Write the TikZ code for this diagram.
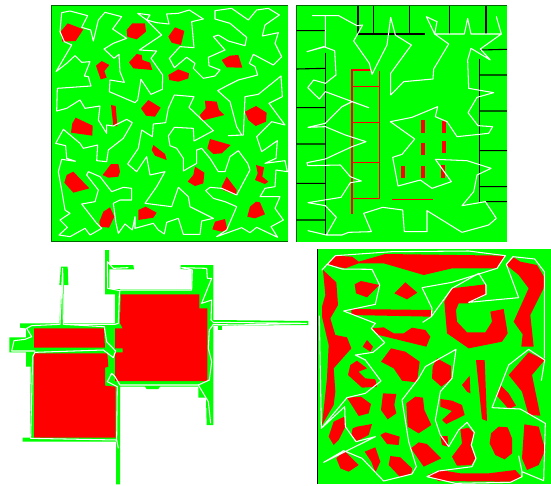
\documentclass[tikz,border=0pt]{standalone}
\begin{document}
\begin{tikzpicture}[
    x=1pt, y=-1pt,
    free/.style={fill=green},
    obstacle/.style={fill=red},
    frame/.style={draw=black!60!green, line width=0.7pt},
    wall/.style={draw=black, line width=1.1pt},
    route/.style={draw=white, line width=1.05pt, line join=round},
    rail/.style={draw=red, line width=1.2pt},
  ]
    \useasboundingbox (0,0) rectangle (551,485);

    % top left
    \begin{scope}[shift={(45,0)}, scale=1/3]
    \fill[free] (20,17) rectangle (728,724);
    \draw[frame] (728,17) -- (20,17) -- (20,724) -- (728,724);
    \fill[obstacle] (68,70) -- (115,88) -- (92,123) -- (52,125) -- (47,95) -- cycle;
    \fill[obstacle] (262,70) -- (300,70) -- (303,95) -- (275,118) -- (247,110) -- (245,90) -- cycle;
    \fill[obstacle] (390,82) -- (418,93) -- (408,135) -- (380,128) -- (370,110) -- cycle;
    \fill[obstacle] (275,162) -- (290,165) -- (292,180) -- (315,188) -- (322,210) -- (265,205) -- (252,187) -- cycle;
    \fill[obstacle] (170,183) -- (193,195) -- (178,213) -- (185,233) -- (167,238) -- (153,197) -- cycle;
    \fill[obstacle] (555,167) -- (580,165) -- (592,203) -- (545,202) -- (530,180) -- cycle;
    \fill[obstacle] (400,208) -- (432,220) -- (430,235) -- (400,245) -- (373,240) -- (370,225) -- cycle;
    \fill[obstacle] (310,300) -- (347,323) -- (330,350) -- (303,347) -- (288,325) -- cycle;
    \fill[obstacle] (198,315) -- (212,318) -- (217,378) -- (205,378) -- cycle;
    \fill[obstacle] (480,302) -- (515,305) -- (522,330) -- (538,345) -- (470,362) -- (465,345) -- (482,325) -- cycle;
    \fill[obstacle] (633,318) -- (665,338) -- (663,365) -- (632,378) -- (610,360) -- (600,335) -- cycle;
    \fill[obstacle] (92,353) -- (143,377) -- (142,407) -- (78,398) -- (82,370) -- cycle;
    \fill[obstacle] (495,417) -- (557,435) -- (530,460) -- (505,462) -- (487,445) -- cycle;
    \fill[obstacle] (325,435) -- (360,462) -- (365,480) -- (330,467) -- (320,450) -- cycle;
    \fill[obstacle] (198,492) -- (220,492) -- (225,515) -- (220,530) -- (190,533) -- (173,525) -- cycle;
    \fill[obstacle] (85,515) -- (133,565) -- (85,578) -- (58,548) -- (65,525) -- cycle;
    \fill[obstacle] (450,500) -- (478,518) -- (475,550) -- (450,558) -- (428,545) -- (445,525) -- cycle;
    \fill[obstacle] (545,530) -- (575,570) -- (573,585) -- (533,570) -- (530,560) -- cycle;
    \fill[obstacle] (633,495) -- (657,502) -- (652,530) -- (670,545) -- (660,552) -- (630,540) -- (638,520) -- cycle;
    \fill[obstacle] (195,622) -- (208,650) -- (192,683) -- (165,680) -- (163,665) -- (175,635) -- cycle;
    \fill[obstacle] (302,620) -- (335,638) -- (325,653) -- (280,660) -- (280,630) -- cycle;
    \fill[obstacle] (633,605) -- (645,607) -- (660,643) -- (630,655) -- (607,650) -- (615,620) -- cycle;
    \fill[obstacle] (510,665) -- (540,657) -- (547,690) -- (530,695) -- (502,688) -- cycle;
    \draw[route] (92,484) -- (50,478) -- (40,515) -- (50,570) -- (60,630) -- (75,640) -- (45,660) -- (67,682) -- (42,705) -- (75,710) -- (120,685) -- (135,705) -- (170,685) -- (155,670) -- (110,612) -- (150,605) -- (160,570) -- (125,525) -- (130,515) -- (165,530) -- (200,575) -- (235,562) -- (260,565) -- (260,600) -- (225,600) -- (205,610) -- (213,670) -- (220,700) -- (240,672) -- (262,690) -- (270,650) -- (270,685) -- (325,670) -- (340,690) -- (358,702) -- (365,667) -- (400,655) -- (415,703) -- (465,703) -- (470,663) -- (505,655) -- (435,620) -- (430,590) -- (400,562) -- (380,620) -- (300,610) -- (335,560) -- (360,515) -- (315,525) -- (305,470) -- (275,515) -- (248,492) -- (280,445) -- (290,390) -- (322,410) -- (325,372) -- (362,368) -- (370,325) -- (388,285) -- (447,290) -- (432,322) -- (505,392) -- (447,423) -- (445,385) -- (388,382) -- (370,408) -- (375,437) -- (395,445) -- (415,475) -- (415,513) -- (455,490) -- (455,450) -- (470,445) -- (495,475) -- (520,515) -- (540,515) -- (555,470) -- (580,452) -- (608,490) -- (615,510) -- (575,585) -- (530,565) -- (495,562) -- (482,572) -- (505,595) -- (540,605) -- (575,620) -- (545,690) -- (515,710) -- (590,683) -- (615,698) -- (635,682) -- (698,712) -- (678,680) -- (715,660) -- (690,625) -- (705,590) -- (645,590) -- (660,565) -- (690,560) -- (693,510) -- (727,515) -- (720,482) -- (660,490) -- (693,475) -- (697,422) -- (650,455) -- (635,410) -- (680,365) -- (720,375) -- (672,310) -- (712,290) -- (708,228) -- (640,283) -- (600,290) -- (595,405) -- (550,407) -- (590,405) -- (575,380) -- (555,305) -- (518,272) -- (550,255) -- (580,240) -- (638,225) -- (630,200) -- (613,190) -- (625,163) -- (685,195) -- (710,170) -- (690,130) -- (700,98) -- (652,108) -- (660,75) -- (703,45) -- (670,25) -- (635,30) -- (610,60) -- (560,25) -- (510,32) -- (510,57) -- (555,70) -- (605,112) -- (600,137) -- (550,123) -- (520,105) -- (505,110) -- (540,150) -- (490,172) -- (492,197) -- (525,210) -- (510,228) -- (475,235) -- (445,205) -- (450,190) -- (425,172) -- (388,203) -- (373,175) -- (405,140) -- (447,143) -- (440,65) -- (475,57) -- (433,30) -- (400,40) -- (365,42) -- (372,72) -- (335,68) -- (305,60) -- (315,45) -- (278,40) -- (305,60) -- (350,105) -- (283,150) -- (335,153) -- (318,175) -- (353,225) -- (352,268) -- (318,283) -- (288,238) -- (278,300) -- (270,308) -- (235,293) -- (193,275) -- (195,240) -- (238,247) -- (225,215) -- (222,163) -- (207,175) -- (177,147) -- (205,130) -- (245,115) -- (203,87) -- (230,50) -- (180,37) -- (160,60) -- (145,123) -- (137,90) -- (110,82) -- (128,47) -- (75,33) -- (50,38) -- (45,95) -- (58,125) -- (80,135) -- (33,215) -- (65,190) -- (90,167) -- (110,187) -- (135,185) -- (118,228) -- (130,230) -- (138,258) -- (37,265) -- (35,333) -- (65,325) -- (105,300) -- (120,325) -- (165,318) -- (160,360) -- (185,400) -- (185,375) -- (205,378) -- (245,358) -- (262,368) -- (235,415) -- (190,450) -- (185,485) -- (155,482) -- (158,435) -- (115,445) -- (105,430) -- (55,388) -- (32,430) -- (62,437) -- (65,475) -- (92,484);
    \end{scope}

    % top right
    \begin{scope}[shift={(292,0)}, scale=1/3]
    \fill[free] (13,17) rectangle (645,725);
    \draw[frame] (13,725) -- (13,17) -- (645,17);
    \draw[wall] (198,17) -- (198,102) (245,17) -- (245,102) (353,17) -- (353,102) (472,17) -- (472,102) (582,17) -- (582,102);
    \draw[wall] (198,102) -- (400,102);
    \draw[wall] (100,160) -- (100,705);
    \draw[wall] (13,92) -- (100,92) (13,207) -- (100,205) (13,323) -- (100,323) (13,432) -- (100,432) (13,550) -- (100,550) (13,660) -- (100,660);
    \draw[wall] (562,178) -- (562,605);
    \draw[wall] (565,150) -- (645,148) (562,225) -- (645,225) (562,333) -- (645,333) (562,452) -- (645,452) (562,560) -- (645,560) (582,605) -- (645,605);
    \draw[rail] (237,210) -- (180,210) -- (180,642);
    \draw[rail] (263,213) -- (263,597);
    \draw[rail] (180,260) -- (263,260) (180,368) -- (263,368) (180,487) -- (263,487) (180,596) -- (263,596);
    \draw[rail, line width=0.7pt] (300,597) -- (422,597);
    \fill[obstacle] (388,360) rectangle (400,398);
    \fill[obstacle] (450,362) rectangle (462,400);
    \fill[obstacle] (388,428) rectangle (400,465);
    \fill[obstacle] (450,422) rectangle (462,458);
    \fill[obstacle] (327,497) rectangle (339,535);
    \fill[obstacle] (388,497) rectangle (400,535);
    \fill[obstacle] (448,495) rectangle (460,535);
    \draw[route] (60,47) -- (140,47) -- (195,77) -- (212,75) -- (185,123) -- (232,190) -- (240,223) -- (285,135) -- (296,52) -- (310,105) -- (358,135) -- (296,220) -- (296,285) -- (335,245) -- (423,237) -- (425,207) -- (470,132) -- (428,102) -- (435,65) -- (403,50) -- (428,102) -- (517,102) -- (527,55) -- (537,102) -- (628,102) -- (613,50) -- (628,102) -- (565,147) -- (595,180) -- (537,145) -- (527,180) -- (530,265) -- (605,278) -- (555,292) -- (528,338) -- (558,377) -- (602,380) -- (590,400) -- (495,410) -- (465,365) -- (430,350) -- (437,320) -- (360,352) -- (295,365) -- (368,417) -- (330,463) -- (302,472) -- (318,558) -- (385,540) -- (420,565) -- (478,545) -- (430,478) -- (525,482) -- (597,505) -- (555,525) -- (545,575) -- (510,617) -- (580,605) -- (613,655) -- (590,675) -- (510,697) -- (405,632) -- (405,695) -- (337,695) -- (332,630) -- (272,622) -- (215,640) -- (238,695) -- (170,697) -- (150,705) -- (103,705) -- (48,692) -- (103,705) -- (133,652) -- (100,617) -- (48,608) -- (147,592) -- (175,548) -- (208,543) -- (175,530) -- (145,495) -- (47,497) -- (45,488) -- (100,477) -- (180,440) -- (222,425) -- (160,405) -- (100,380) -- (48,382) -- (100,370) -- (150,320) -- (180,305) -- (230,323) -- (100,275) -- (82,297) -- (47,263) -- (65,240) -- (100,250) -- (132,225) -- (128,152) -- (95,140) -- (45,155) -- (100,140) -- (100,47);
    \end{scope}

    % bottom left
    \begin{scope}[shift={(0,245)}, scale=1/3]
    \fill[free] (315,15) -- (327,15) -- (327,60) -- (400,60) -- (402,73) -- (328,73) -- (328,132) -- (575,132) -- (575,75) -- (542,72) -- (542,60) -- (640,60) -- (640,225) -- (925,228) -- (925,240) -- (640,242) -- (640,540) -- (620,540) -- (618,458) -- (595,458) -- (595,425) -- (480,425) -- (475,432) -- (440,432) -- (435,425) -- (360,425) -- (360,718) -- (348,718) -- (348,590) -- (68,590) -- (68,578) -- (90,578) -- (92,365) -- (78,365) -- (78,322) -- (28,322) -- (28,277) -- (78,277) -- (78,250) -- (60,248) -- (60,235) -- (178,235) -- (185,120) -- (178,120) -- (183,65) -- (203,65) -- (205,120) -- (192,120) -- (190,235) -- (345,235) -- (345,148) -- (315,148) -- cycle;
    \fill[free] (654,244) rectangle (666,256);
    \fill[obstacle] (102,250) -- (312,250) -- (315,308) -- (102,308) -- cycle;
    \fill[obstacle] (102,325) -- (322,325) -- (325,365) -- (315,368) -- (315,422) -- (347,425) -- (347,578) -- (102,578) -- cycle;
    \fill[obstacle] (362,148) -- (598,148) -- (598,190) -- (622,190) -- (622,408) -- (345,408) -- (345,322) -- (368,322) -- (368,310) -- (345,310) -- (345,250) -- (368,250) -- (360,235) -- cycle;
    \draw[route] (355,610) -- (350,585) -- (92,580) -- (98,335) -- (105,322) -- (310,315) -- (340,338) -- (347,318) -- (320,290) -- (313,245) -- (190,238) -- (188,70) -- (180,238) -- (95,242) -- (80,250) -- (95,275) -- (75,283) -- (42,287) -- (35,318) -- (105,318);
    \draw[route] (190,238) -- (345,238) -- (355,235) -- (358,148) -- (360,137) -- (323,130) -- (322,50) -- (340,70) -- (385,68);
    \draw[route] (360,135) -- (575,135) -- (577,75) -- (545,68) -- (620,70) -- (622,100) -- (635,100) -- (605,175) -- (635,165) -- (633,225) -- (640,232) -- (920,235) -- (705,240) -- (640,238) -- (628,255) -- (625,310) -- (635,350) -- (628,405) -- (595,420) -- (625,470) -- (632,535);
    \draw[route] (595,420) -- (360,420) -- (345,395) -- (335,385) -- (322,410) -- (352,425) -- (350,585);
    \end{scope}

    % bottom right
    \begin{scope}[shift={(312,245)}, scale=1/3]
    \fill[free] (17,12) rectangle (720,718);
    \draw[wall, line width=1.2pt] (17,12) -- (17,718);
    \fill[obstacle] (70,32) -- (120,35) -- (140,50) -- (220,27) -- (580,32) -- (555,70) -- (420,70) -- (335,90) -- (215,55) -- (140,55) -- (100,70) -- (45,58) -- cycle;
    \fill[obstacle] (605,37) -- (625,50) -- (675,60) -- (697,97) -- (695,130) -- (655,210) -- (665,305) -- (628,305) -- (632,268) -- (605,230) -- (650,130) -- (620,90) -- (583,60) -- cycle;
    \fill[obstacle] (33,75) -- (73,112) -- (78,180) -- (55,220) -- (70,270) -- (105,277) -- (118,310) -- (65,370) -- (70,440) -- (65,480) -- (30,540) -- (45,400) -- (48,340) -- (50,300) -- (30,215) -- (30,185) -- (40,150) -- cycle;
    \fill[obstacle] (147,108) -- (202,120) -- (165,157) -- (132,145) -- (128,118) -- cycle;
    \fill[obstacle] (280,112) -- (316,143) -- (285,163) -- (247,145) -- cycle;
    \fill[obstacle] (118,192) -- (358,195) -- (358,215) -- (118,210) -- cycle;
    \fill[obstacle] (420,130) -- (520,118) -- (522,150) -- (470,175) -- (440,175) -- (432,195) -- (435,230) -- (465,262) -- (520,262) -- (540,230) -- (535,200) -- (575,192) -- (587,265) -- (570,290) -- (470,310) -- (405,265) -- (397,170) -- cycle;
    \fill[obstacle] (180,250) -- (215,247) -- (245,265) -- (275,265) -- (300,248) -- (340,255) -- (355,275) -- (343,305) -- (200,270) -- cycle;
    \fill[obstacle] (165,285) -- (183,305) -- (175,320) -- (152,305) -- cycle;
    \fill[obstacle] (237,310) -- (280,320) -- (323,350) -- (315,412) -- (270,407) -- (245,370) -- (207,350) -- cycle;
    \fill[obstacle] (135,347) -- (165,370) -- (140,380) -- (160,400) -- (190,403) -- (195,425) -- (150,428) -- (108,390) -- (115,360) -- cycle;
    \fill[obstacle] (375,340) -- (417,363) -- (418,403) -- (388,425) -- (360,400) -- (362,365) -- cycle;
    \fill[obstacle] (473,392) -- (475,445) -- (465,440) -- (450,420) -- cycle;
    \fill[obstacle] (492,345) -- (518,345) -- (525,528) -- (510,522) -- cycle;
    \fill[obstacle] (590,390) -- (650,322) -- (698,345) -- (660,390) -- (685,512) -- (650,510) -- (630,440) -- cycle;
    \fill[obstacle] (565,420) -- (590,445) -- (612,482) -- (590,492) -- (553,450) -- cycle;
    \fill[obstacle] (105,458) -- (147,455) -- (177,477) -- (170,505) -- (140,513) -- cycle;
    \fill[obstacle] (213,445) -- (253,447) -- (247,480) -- (253,505) -- (227,523) -- (207,495) -- cycle;
    \fill[obstacle] (283,475) -- (310,455) -- (333,458) -- (337,495) -- (358,540) -- (320,565) -- (287,545) -- cycle;
    \fill[obstacle] (385,462) -- (420,467) -- (450,480) -- (458,510) -- (403,537) -- (390,525) -- (420,498) -- (385,485) -- cycle;
    \fill[obstacle] (97,515) -- (100,545) -- (80,585) -- (65,600) -- (50,575) -- (65,530) -- cycle;
    \fill[obstacle] (135,545) -- (180,537) -- (170,570) -- (135,588) -- (118,570) -- (122,550) -- cycle;
    \fill[obstacle] (220,562) -- (263,575) -- (260,600) -- (225,597) -- (205,570) -- cycle;
    \fill[obstacle] (385,573) -- (407,573) -- (408,605) -- (390,600) -- cycle;
    \fill[obstacle] (445,553) -- (470,548) -- (487,565) -- (475,600) -- (490,640) -- (478,660) -- (435,662) -- (420,635) -- (450,595) -- cycle;
    \fill[obstacle] (560,545) -- (587,547) -- (600,580) -- (600,625) -- (578,643) -- (550,630) -- (533,595) -- (537,565) -- cycle;
    \fill[obstacle] (637,538) -- (680,545) -- (700,615) -- (680,660) -- (645,675) -- (630,640) -- cycle;
    \fill[obstacle] (97,617) -- (140,660) -- (110,680) -- (85,670) -- (73,640) -- cycle;
    \fill[obstacle] (158,620) -- (190,607) -- (205,650) -- (190,682) -- (178,650) -- cycle;
    \fill[obstacle] (235,633) -- (265,637) -- (300,670) -- (298,685) -- (265,697) -- (230,660) -- cycle;
    \fill[obstacle] (320,592) -- (345,597) -- (388,640) -- (335,665) -- (297,610) -- cycle;
    \fill[obstacle] (347,690) -- (385,675) -- (445,685) -- (530,685) -- (610,675) -- (628,695) -- (605,710) -- (380,708) -- cycle;
    \draw[route] (620,632) -- (630,680) -- (695,707) -- (700,535) -- (625,492) -- (540,488) -- (590,360) -- (650,313) -- (698,345) -- (688,407);
    \draw[route] (630,680) -- (630,695) -- (595,712) -- (430,715) -- (345,695) -- (380,678) -- (480,665) -- (492,640) -- (478,600) -- (487,562) -- (465,532) -- (440,555) -- (410,605) -- (385,570) -- (370,525) -- (385,440) -- (420,400) -- (432,313) -- (340,365) -- (320,400) -- (270,465) -- (290,590) -- (313,665) -- (300,687) -- (215,708) -- (150,640) -- (95,617) -- (35,652) -- (190,575) -- (132,590) -- (100,545) -- (98,485) -- (28,550) -- (105,458) -- (160,445) -- (207,408) -- (160,345) -- (130,330) -- (183,322) -- (218,293) -- (178,250) -- (190,235) -- (95,198) -- (190,178) -- (203,120) -- (180,73) -- (90,72) -- (45,58) -- (30,75) -- (70,32) -- (240,20) -- (470,18) -- (580,32) -- (555,70) -- (420,112) -- (330,128) -- (360,190) -- (358,215) -- (332,232);
    \draw[route] (28,550) -- (22,212);
    \draw[route] (358,215) -- (420,130) -- (500,85) -- (522,120) -- (522,148) -- (470,172) -- (620,158) -- (583,58) -- (603,35) -- (668,42) -- (697,80) -- (697,340);
    \end{scope}
  \end{tikzpicture}
\end{document}
